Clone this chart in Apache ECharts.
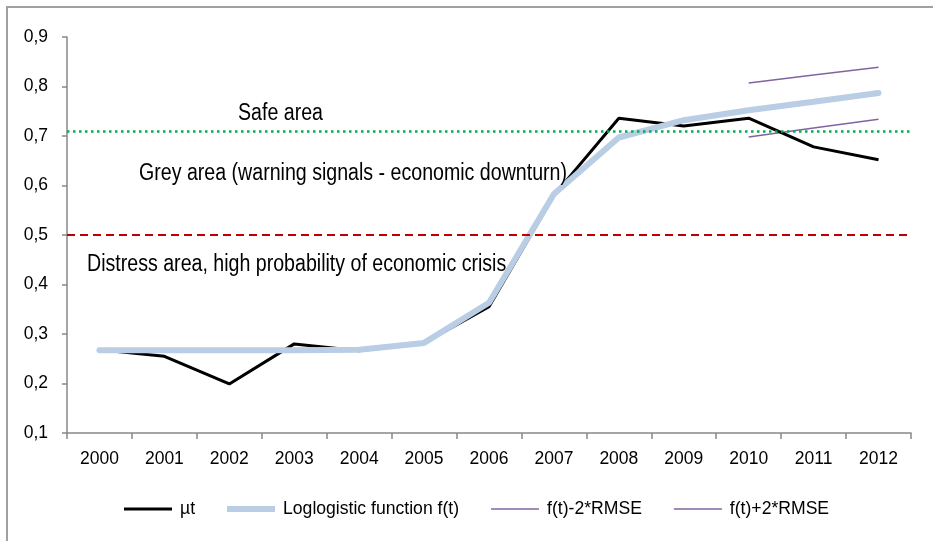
<!DOCTYPE html>
<html>
<head>
<meta charset="utf-8">
<script src="https://cdn.jsdelivr.net/npm/echarts@6/dist/echarts.min.js"></script>
<style>
html,body{margin:0;padding:0;background:#fff;}
#chart{width:933px;height:541px;}
</style>
</head>
<body>
<div id="chart"></div>
<script>
const years = ['2000','2001','2002','2003','2004','2005','2006','2007','2008','2009','2010','2011','2012'];
const mu = [0.268, 0.255, 0.199, 0.280, 0.266, 0.282, 0.355, 0.580, 0.736, 0.720, 0.736, 0.678, 0.652];
const loglogistic = [0.267, 0.267, 0.267, 0.267, 0.268, 0.282, 0.363, 0.583, 0.697, 0.732, 0.752, 0.769, 0.787];
const lowerBand = [null, null, null, null, null, null, null, null, null, null, 0.698, 0.716, 0.734];
const upperBand = [null, null, null, null, null, null, null, null, null, null, 0.807, 0.823, 0.839];
const safeThreshold = 0.707;
const distressThreshold = 0.497;
const yTicks = [0.1, 0.2, 0.3, 0.4, 0.5, 0.6, 0.7, 0.8, 0.9];
const seriesNames = ['µt', 'Loglogistic function f(t)', 'f(t)-2*RMSE', 'f(t)+2*RMSE'];
const areaLabels = ['Safe area', 'Grey area (warning signals - economic downturn)', 'Distress area, high probability of economic crisis'];

const FONT = "'Liberation Sans', Arial, sans-serif";
const chart = echarts.init(document.getElementById('chart'));
function areaText(label, x, y) {
  return {type: 'text', x: x, y: y, scaleY: 1.22, originX: 0, originY: 0,
    style: {text: label, font: '19.6px ' + FONT, fill: '#000', textVerticalAlign: 'middle'}, z: 10};
}
const option = {
  animation: false,
  backgroundColor: '#fff',
  textStyle: {fontFamily: FONT},
  grid: {left: 67, right: 22, top: 37, bottom: 108},
  legend: {
    bottom: 18,
    left: 119,
    itemWidth: 48,
    itemHeight: 8,
    itemGap: 32,
    textStyle: {fontSize: 17.6, color: '#000', fontFamily: FONT, padding: [0,0,0,3]},
    data: [
      {name: seriesNames[0], icon: 'path://M0,0 L48,0 L48,3 L0,3 Z', itemStyle: {color: '#000'}},
      {name: seriesNames[1], icon: 'path://M0,0 L48,0 L48,6 L0,6 Z', itemStyle: {color: '#B9CDE5'}},
      {name: seriesNames[2], icon: 'path://M0,0 L48,0 L48,1.5 L0,1.5 Z', itemStyle: {color: '#8064A2'}},
      {name: seriesNames[3], icon: 'path://M0,0 L48,0 L48,1.5 L0,1.5 Z', itemStyle: {color: '#8064A2'}}
    ]
  },
  xAxis: {
    type: 'category',
    data: years,
    boundaryGap: true,
    axisLine: {lineStyle: {color: '#888', width: 1.5}},
    axisTick: {show: true, length: 6, alignWithLabel: false, lineStyle: {color: '#888', width: 1.5}},
    axisLabel: {fontSize: 17.5, color: '#000', margin: 17, fontFamily: FONT},
    splitLine: {show: false}
  },
  yAxis: {
    type: 'value',
    min: yTicks[0],
    max: yTicks[yTicks.length - 1],
    interval: 0.1,
    axisLine: {show: true, lineStyle: {color: '#888', width: 1.5}},
    axisTick: {show: true, length: 5, lineStyle: {color: '#888', width: 1.5}},
    axisLabel: {fontSize: 17.5, color: '#000', margin: 19, fontFamily: FONT,
      formatter: v => v.toFixed(1).replace('.', ',')},
    splitLine: {show: false}
  },
  series: [
    {
      name: seriesNames[0], type: 'line', data: mu, symbol: 'none', z: 3,
      lineStyle: {color: '#000', width: 3}, itemStyle: {color: '#000'},
      markLine: {
        silent: true, symbol: 'none', label: {show: false},
        data: [
          {yAxis: safeThreshold, lineStyle: {color: '#00B050', type: [2.5, 3.5], width: 2.5}},
          {yAxis: distressThreshold, lineStyle: {color: '#C00000', type: [8, 5], width: 2}}
        ]
      }
    },
    {
      name: seriesNames[1], type: 'line', data: loglogistic, symbol: 'none', z: 4,
      lineStyle: {color: '#B9CDE5', width: 6, cap: 'round'}, itemStyle: {color: '#B9CDE5'}
    },
    {
      name: seriesNames[2], type: 'line', data: lowerBand, symbol: 'none', z: 2,
      lineStyle: {color: '#8064A2', width: 1.5}, itemStyle: {color: '#8064A2'}
    },
    {
      name: seriesNames[3], type: 'line', data: upperBand, symbol: 'none', z: 2,
      lineStyle: {color: '#8064A2', width: 1.5}, itemStyle: {color: '#8064A2'}
    }
  ],
  graphic: [
    {type: 'rect', shape: {x: 7, y: 7, width: 1000, height: 1000}, style: {fill: 'none', stroke: '#a0a0a0', lineWidth: 2}, silent: true, z: 0},
    areaText(areaLabels[0], 238, 113),
    areaText(areaLabels[1], 139, 173),
    areaText(areaLabels[2], 87, 264)
  ]
};
chart.setOption(option);
</script>
</body>
</html>
